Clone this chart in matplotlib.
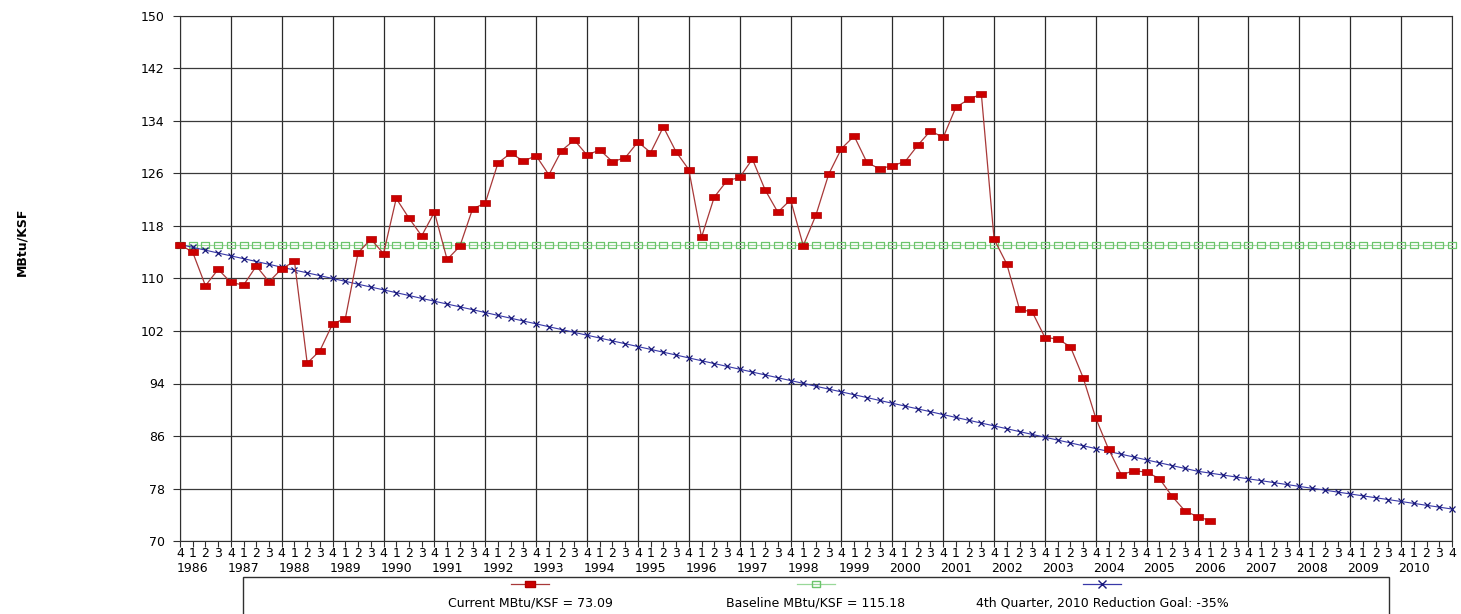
import numpy as np
import matplotlib
matplotlib.use('Agg')
from matplotlib import pyplot as plt
from matplotlib.lines import Line2D
from matplotlib.patches import Rectangle

# quarter labels along the bottom, 1986 Q4 .. 2010 Q4
quarter_labels = ['4'] + ['1', '2', '3', '4'] * 25
years = [str(y) for y in range(1986, 2011)]

# MBtu/KSF per quarter
current = [115.18, 114.0, 108.9, 111.4, 109.4, 109.0, 111.9, 109.5, 111.5, 112.6,
           97.1, 99.0, 103.1, 103.9, 113.9, 116.0, 113.8, 122.2, 119.2, 116.5,
           120.1, 112.9, 114.9, 120.6, 121.5, 127.6, 129.1, 127.9, 128.7, 125.8,
           129.5, 131.1, 128.8, 129.6, 127.8, 128.4, 130.8, 129.2, 133.1, 129.3,
           126.6, 116.3, 122.4, 124.9, 125.4, 128.2, 123.5, 120.1, 122.0, 115.0,
           119.7, 125.9, 129.8, 131.7, 127.7, 126.7, 127.2, 127.8, 130.3, 132.5,
           131.5, 136.1, 137.3, 138.1, 116.0, 112.2, 105.3, 104.9, 101.0, 100.8,
           99.6, 94.9, 88.7, 84.0, 80.1, 80.7, 80.5, 79.5, 76.8, 74.6,
           73.7, 73.09]
baseline = 115.18
goal = [115.18, 114.75, 114.32, 113.88, 113.45, 113.02, 112.59, 112.16, 111.72, 111.29,
        110.86, 110.43, 110.00, 109.57, 109.13, 108.70, 108.27, 107.84, 107.41, 106.97,
        106.54, 106.11, 105.68, 105.25, 104.81, 104.38, 103.95, 103.52, 103.09, 102.65,
        102.22, 101.79, 101.36, 100.93, 100.49, 100.06, 99.63, 99.20, 98.77, 98.34,
        97.90, 97.47, 97.04, 96.61, 96.18, 95.74, 95.31, 94.88, 94.45, 94.02,
        93.58, 93.15, 92.72, 92.29, 91.86, 91.42, 90.99, 90.56, 90.13, 89.70,
        89.26, 88.83, 88.40, 87.97, 87.54, 87.11, 86.67, 86.24, 85.81, 85.38,
        84.95, 84.51, 84.08, 83.65, 83.22, 82.79, 82.35, 81.92, 81.49, 81.06,
        80.63, 80.34, 80.05, 79.76, 79.47, 79.19, 78.90, 78.61, 78.32, 78.03,
        77.75, 77.46, 77.17, 76.88, 76.59, 76.31, 76.02, 75.73, 75.44, 75.16,
        74.87]

legend_texts = ['Current MBtu/KSF = 73.09', 'Baseline MBtu/KSF = 115.18',
                '4th Quarter, 2010 Reduction Goal: -35%']

rect = [(-1, -0.7), (1, -0.7), (1, 0.7), (-1, 0.7), (-1, -0.7)]

fig = plt.figure(figsize=(14.61, 6.14), dpi=100)
ax = fig.add_axes([180 / 1461, 1 - 541 / 614, (1452 - 180) / 1461, (541 - 16) / 614])

xq = np.arange(len(quarter_labels))
ax.set_xlim(0, len(quarter_labels) - 1)
ax.set_ylim(70, 150)

# grid
ax.set_yticks(np.arange(70, 151, 8))
ax.yaxis.grid(True, color='#3a3a3a', lw=0.9)
for i in range(0, len(quarter_labels), 4):
    ax.axvline(i, color='#2a2a2a', lw=0.9, zorder=1)

ax.plot(xq, [baseline] * len(xq), color='#99d899', lw=0.8, marker=rect, ms=6,
        mfc='none', mec='#6cc46c', mew=0.9, zorder=3, clip_on=False)
ax.plot(xq, goal, color='#3838a8', lw=0.8, marker='x', ms=4.5, mec='#18187a',
        mew=0.9, zorder=4, clip_on=False)
ax.plot(xq[:len(current)], current, color='#a83838', lw=0.9, marker=rect, ms=6.5,
        mfc='#cc0000', mec='#b00000', mew=0.5, zorder=5, clip_on=False)

ax.set_xticks(xq)
ax.set_xticklabels(quarter_labels)
ax.tick_params(axis='x', length=4, pad=0.5, labelsize=9, color='#303030')
ax.tick_params(axis='y', length=5, pad=6, labelsize=9, color='#303030')
for s in ax.spines.values():
    s.set_color('#303030')

trans = ax.get_xaxis_transform()
for k, yr in enumerate(years):
    ax.text(1 + 4 * k, -0.053, yr, transform=trans, ha='center', va='center',
            fontsize=9)

fig.text(21.7 / 1461, 1 - 242 / 614, 'MBtu/KSF', rotation=90, ha='center',
         va='center', fontsize=9, fontweight='bold')

# legend box, runs off the bottom of the image
fig.patches.append(Rectangle((243 / 1461, -0.1), (1389 - 243) / 1461,
                             0.1 + 1 - 576.7 / 614, transform=fig.transFigure,
                             fill=False, ec='#303030', lw=1))
ly = 1 - 584 / 614
ty = 1 - 603 / 614
centers = [530, 816, 1102]
styles = [dict(color='#a83838', marker=rect, ms=6.5, mfc='#cc0000', mec='#b00000'),
          dict(color='#99d899', marker=rect, ms=6, mfc='none', mec='#6cc46c'),
          dict(color='#3838a8', marker='x', ms=6, mec='#18187a')]
for c, st, txt in zip(centers, styles, legend_texts):
    fig.lines.append(Line2D([(c - 19) / 1461, (c + 19) / 1461], [ly, ly],
                            transform=fig.transFigure, lw=0.9, markevery=[], **st))
    fig.lines.append(Line2D([c / 1461], [ly], transform=fig.transFigure,
                            lw=0, **st))
    fig.text(c / 1461, ty, txt, ha='center', va='center', fontsize=9)

fig.savefig('out.png', dpi=100)
